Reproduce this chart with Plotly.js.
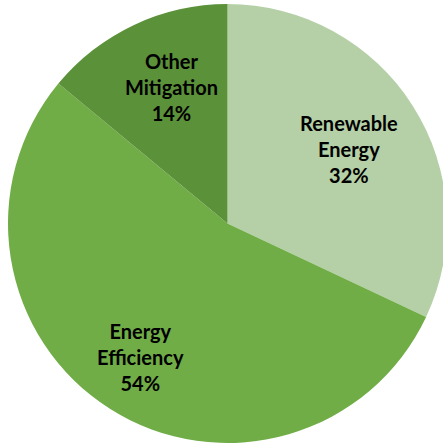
<!DOCTYPE html>
<html><head><meta charset="utf-8">
<script src="https://cdn.plot.ly/plotly-3.0.1.min.js"></script>
<style>html,body{margin:0;padding:0;overflow:hidden;background:#fff;}#chart{width:447px;height:446px;}</style>
</head><body><div id="chart"></div>
<script>
const categories = ["Renewable<br>Energy", "Energy<br>Efficiency", "Other<br>Mitigation"];
const shares = [32, 54, 14];
const colors = ["#b5d0a7", "#70ad47", "#5b9139"];
// label anchor positions (paper fractions) for each slice label
const labelX = [0.777, 0.301, 0.372];
const labelY = [0.670, 0.196, 0.810];

const labelFont = {family: "Lato, 'Open Sans', sans-serif", size: 20, color: "#000"};

Plotly.newPlot("chart", [{
  type: "pie",
  labels: categories,
  values: shares,
  sort: false,
  direction: "clockwise",
  rotation: 0,
  marker: {colors: colors, line: {width: 0}},
  textinfo: "none",
  hoverinfo: "none",
  domain: {x: [0, 1], y: [0, 1]}
}], {
  width: 447, height: 446,
  margin: {l: 8, r: 0, t: 4, b: 3},
  showlegend: false,
  paper_bgcolor: "#fff",
  annotations: categories.map((c, i) => ({
    text: "<b>" + c + "<br>" + shares[i] + "%</b>",
    x: labelX[i], y: labelY[i], xref: "paper", yref: "paper",
    xanchor: "center", yanchor: "middle", showarrow: false,
    font: labelFont, align: "center"
  }))
}, {displayModeBar: false, staticPlot: true});
</script></body></html>
